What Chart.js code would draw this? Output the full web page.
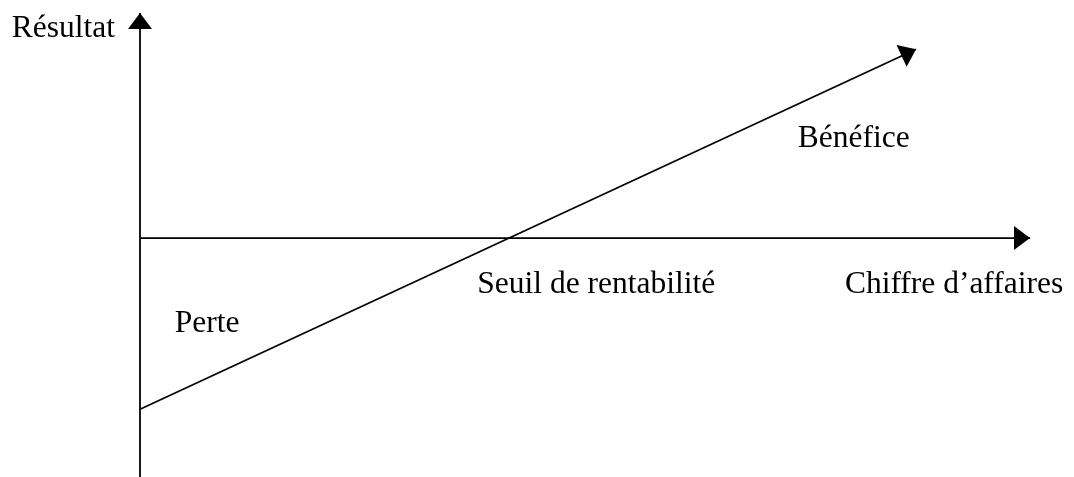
<!DOCTYPE html>
<html>
<head>
<meta charset="utf-8">
<script src="https://cdn.jsdelivr.net/npm/chart.js@4"></script>
<style>
  body { margin: 0; background: #fff; }
</style>
</head>
<body>
<canvas id="myChart" width="1074" height="477"></canvas>
<script>
// axes of the diagram (data units)
var axisX_x = [0, 100]
var axisX_y = [0, 0]
var axisY_x = [0, 0]
var axisY_y = [-51.5, 48.5]

// result line: loss at zero turnover, rising to profit
var resultX = [0, 87.2]
var resultY = [-36.9, 40.7]

var labels = ['Résultat', 'Bénéfice', 'Seuil de rentabilité', 'Chiffre d\u2019affaires', 'Perte']

// where each label sits (data units, left edge / baseline)
var labelPos = [
  [-14.4, 43.3],
  [73.9, 19.6],
  [37.9, -11.85],
  [79.2, -11.85],
  [3.9, -20.3]
]

function toPoints(xs, ys) {
  return xs.map(function (x, i) { return { x: x, y: ys[i] } })
}

function lineSet(xs, ys) {
  return {
    data: toPoints(xs, ys),
    showLine: true,
    borderColor: '#000',
    borderWidth: 1.8,
    pointRadius: 0,
    fill: false
  }
}

// arrowheads at the end of each line + the text labels
var diagramPlugin = {
  id: 'diagram',
  afterDatasetsDraw: function (chart) {
    var ctx = chart.ctx
    var sx = chart.scales.x
    var sy = chart.scales.y
    ctx.save()
    ctx.fillStyle = '#000'
    chart.data.datasets.forEach(function (ds) {
      var d = ds.data
      var a = d[d.length - 2], b = d[d.length - 1]
      var x1 = sx.getPixelForValue(a.x), y1 = sy.getPixelForValue(a.y)
      var x2 = sx.getPixelForValue(b.x), y2 = sy.getPixelForValue(b.y)
      var ang = Math.atan2(y2 - y1, x2 - x1)
      var len = 16, half = 12
      ctx.beginPath()
      ctx.moveTo(x2, y2)
      ctx.lineTo(x2 - len * Math.cos(ang) + half * Math.sin(ang), y2 - len * Math.sin(ang) - half * Math.cos(ang))
      ctx.lineTo(x2 - len * Math.cos(ang) - half * Math.sin(ang), y2 - len * Math.sin(ang) + half * Math.cos(ang))
      ctx.closePath()
      ctx.fill()
    })
    ctx.font = '31.5px "Liberation Serif", "Times New Roman", serif'
    ctx.textAlign = 'left'
    ctx.textBaseline = 'alphabetic'
    labels.forEach(function (t, i) {
      ctx.fillText(t, sx.getPixelForValue(labelPos[i][0]), sy.getPixelForValue(labelPos[i][1]))
    })
    ctx.restore()
  }
}

var ctx = document.getElementById('myChart').getContext('2d')
var chart = new Chart(ctx, {
  type: 'scatter',
  data: {
    datasets: [
      lineSet(axisX_x, axisX_y),
      lineSet(axisY_x, axisY_y),
      lineSet(resultX, resultY)
    ]
  },
  options: {
    responsive: false,
    animation: false,
    layout: { padding: { left: 140, right: 44, top: 13, bottom: 0 } },
    scales: {
      x: { type: 'linear', min: 0, max: 100, display: false },
      y: { type: 'linear', min: -51.5, max: 48.5, display: false }
    },
    plugins: {
      legend: { display: false },
      tooltip: { enabled: false }
    },
    clip: false
  },
  plugins: [diagramPlugin]
})
</script>
</body>
</html>
